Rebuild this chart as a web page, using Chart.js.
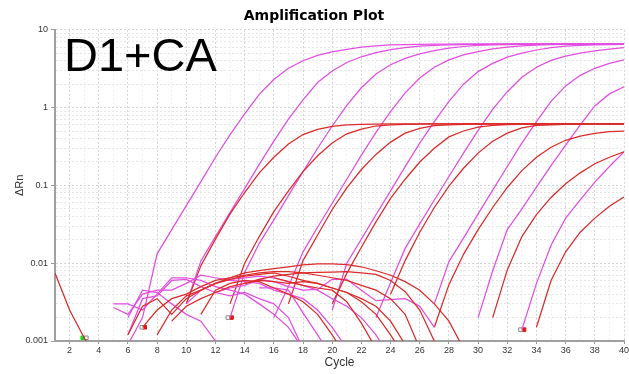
<!DOCTYPE html>
<html>
<head>
<meta charset="utf-8">
<script src="https://cdn.jsdelivr.net/npm/chart.js@4.4.1/dist/chart.umd.min.js"></script>
<style>
  html, body { margin: 0; padding: 0; background: #fff; }
  #wrap { position: relative; width: 629px; height: 374px; }
  #tag { position: absolute; left: 64px; top: 31px; font: 47px/47px "Liberation Sans", Arial, sans-serif; color: #000; pointer-events: none; }
</style>
</head>
<body>
<div id="wrap">
  <canvas id="myChart" width="629" height="374"></canvas>
  <div id="tag">D1+CA</div>
</div>
<script>
// cycle axis + log axis labels
const cycles = Array.from({length: 40}, (_, i) => i + 1);
const yLabels = [0.001, 0.01, 0.1, 1, 10];

// magenta wells: [first cycle, values...]
const m1 = [6, 0.0009, 0.002, 0.0132, 0.027, 0.055, 0.112, 0.23, 0.45, 0.83, 1.48, 2.3, 3.2, 4.0, 4.7, 5.2, 5.6, 6.0, 6.2, 6.4, 6.45, 6.5, 6.55, 6.55, 6.6, 6.6, 6.6, 6.6, 6.62, 6.62, 6.62, 6.65, 6.65, 6.65, 6.65, 6.65];
const m2 = [10, 0.003, 0.0107, 0.022, 0.045, 0.091, 0.186, 0.37, 0.71, 1.26, 2.1, 2.95, 3.8, 4.5, 5.1, 5.55, 5.9, 6.15, 6.3, 6.4, 6.45, 6.5, 6.55, 6.55, 6.6, 6.6, 6.6, 6.6, 6.6, 6.6, 6.6, 6.6];
const m3 = [13, 0.002, 0.0076, 0.018, 0.036, 0.074, 0.15, 0.30, 0.58, 1.07, 1.8, 2.7, 3.55, 4.3, 4.9, 5.4, 5.8, 6.1, 6.3, 6.4, 6.45, 6.5, 6.55, 6.55, 6.6, 6.6, 6.6, 6.6, 6.6];
const m4 = [16, 0.002, 0.005, 0.014, 0.029, 0.059, 0.12, 0.245, 0.48, 0.89, 1.55, 2.4, 3.3, 4.1, 4.75, 5.25, 5.7, 6.0, 6.2, 6.35, 6.45, 6.5, 6.55, 6.55, 6.6, 6.6];
const m5 = [20, 0.0025, 0.01, 0.0204, 0.042, 0.085, 0.174, 0.35, 0.66, 1.2, 2.0, 2.9, 3.7, 4.45, 5.0, 5.5, 5.9, 6.15, 6.3, 6.4, 6.45, 6.5];
const m6 = [23, 0.002, 0.0056, 0.0155, 0.032, 0.065, 0.13, 0.26, 0.51, 0.95, 1.6, 2.45, 3.3, 4.05, 4.6, 5.0, 5.35, 5.65, 5.9];
const m7 = [27, 0.003, 0.0105, 0.021, 0.043, 0.087, 0.175, 0.35, 0.66, 1.2, 1.9, 2.6, 3.2, 3.7, 4.1];
const m8 = [30, 0.002, 0.008, 0.027, 0.05, 0.095, 0.18, 0.33, 0.6, 1.05, 1.5, 1.85];
const m9 = [33, 0.0014, 0.0055, 0.017, 0.038, 0.065, 0.11, 0.175, 0.27];

// red wells
const r1 = [10, 0.003, 0.0093, 0.0204, 0.043, 0.081, 0.145, 0.23, 0.34, 0.45, 0.525, 0.575, 0.60, 0.61, 0.615, 0.62, 0.62, 0.62, 0.62, 0.62, 0.62, 0.62, 0.62, 0.62, 0.62, 0.62, 0.62, 0.62, 0.62, 0.62, 0.62, 0.62];
const r2 = [13, 0.003, 0.01, 0.022, 0.046, 0.085, 0.15, 0.24, 0.35, 0.46, 0.53, 0.58, 0.60, 0.61, 0.615, 0.62, 0.62, 0.62, 0.62, 0.62, 0.62, 0.62, 0.62, 0.62, 0.62, 0.62, 0.62, 0.62, 0.62];
const r3 = [17, 0.003, 0.0108, 0.023, 0.049, 0.093, 0.16, 0.25, 0.36, 0.47, 0.54, 0.585, 0.60, 0.61, 0.615, 0.62, 0.62, 0.62, 0.62, 0.62, 0.62, 0.62, 0.62, 0.62, 0.62];
const r4 = [20, 0.003, 0.0074, 0.016, 0.034, 0.068, 0.12, 0.20, 0.30, 0.42, 0.50, 0.56, 0.59, 0.605, 0.61, 0.615, 0.62, 0.62, 0.62, 0.62, 0.62, 0.62];
const r5 = [24, 0.004, 0.0108, 0.025, 0.052, 0.098, 0.166, 0.26, 0.37, 0.47, 0.55, 0.59, 0.60, 0.61, 0.615, 0.62, 0.62, 0.62];
const r6 = [27, 0.0015, 0.0053, 0.013, 0.027, 0.052, 0.094, 0.155, 0.23, 0.31, 0.38, 0.43, 0.465, 0.49, 0.50];
const r7 = [31, 0.002, 0.0082, 0.022, 0.042, 0.07, 0.105, 0.145, 0.19, 0.23, 0.27];
const r8 = [34, 0.0015, 0.006, 0.014, 0.025, 0.038, 0.054, 0.071];

// baseline noise before take-off
const h0 = [1, 0.0075, 0.0025, 0.0011, 0.0005];
const h1 = [5, 0.003, 0.003, 0.0025, 0.004, 0.0065, 0.0065, 0.006, 0.005, 0.0045, 0.004, 0.003, 0.0022, 0.0015, 0.0008];
const h2 = [5, 0.0027, 0.0022, 0.004, 0.0045, 0.0045, 0.0055, 0.007, 0.0065, 0.006, 0.0058, 0.0055, 0.0045, 0.004, 0.0035, 0.0025, 0.0015, 0.0008];
const h3 = [6, 0.0012, 0.0035, 0.0038, 0.006, 0.0062, 0.005, 0.0042, 0.0038, 0.0042, 0.0035, 0.003, 0.002, 0.0008];
const h4 = [6, 0.0012, 0.0028, 0.0035, 0.0022, 0.0035, 0.0045, 0.0055, 0.0065, 0.0075, 0.008, 0.0085, 0.009, 0.0095, 0.0098, 0.0098, 0.0096, 0.009, 0.008, 0.007, 0.0058, 0.0045, 0.003, 0.0018, 0.0008];
const h5 = [7, 0.0015, 0.0025, 0.0035, 0.004, 0.005, 0.006, 0.0065, 0.007, 0.0075, 0.0078, 0.0078, 0.0075, 0.007, 0.0065, 0.006, 0.0052, 0.0045, 0.0035, 0.0022, 0.0008];
const h6 = [8, 0.0012, 0.0025, 0.0038, 0.0045, 0.0055, 0.0062, 0.0068, 0.0072, 0.0075, 0.0068, 0.006, 0.0055, 0.0048, 0.0042, 0.0032, 0.0022, 0.0012, 0.0006];
const h7 = [9, 0.0018, 0.0028, 0.0035, 0.0042, 0.005, 0.0055, 0.006, 0.0058, 0.0055, 0.0058, 0.0055, 0.0048, 0.0042, 0.0035, 0.0028, 0.0018, 0.0009];
const h8 = [10, 0.003, 0.0045, 0.0055, 0.0062, 0.0065, 0.0068, 0.0065, 0.0058, 0.0052, 0.0045, 0.0035, 0.0028, 0.002, 0.0012, 0.0006];
const h9 = [12, 0.0042, 0.0048, 0.0052, 0.0062, 0.0058, 0.005, 0.0045, 0.0046, 0.0062, 0.0062, 0.0045, 0.0033, 0.0034, 0.0035, 0.0028, 0.0015];
const h10 = [11, 0.0022, 0.0045, 0.0055, 0.006, 0.0058, 0.0048, 0.004, 0.0032, 0.0022, 0.0012, 0.0006];
const h11 = [6, 0.002, 0.0045, 0.0042, 0.003, 0.0022, 0.0018, 0.001, 0.0006];
const h12 = [16, 0.0065, 0.0058, 0.0052, 0.0048, 0.0045, 0.0032, 0.0017, 0.0008];
const h13 = [14, 0.0055, 0.0062, 0.0068, 0.0072, 0.0075, 0.0076, 0.0077, 0.0078, 0.0075, 0.0072, 0.006, 0.0043, 0.0025, 0.001, 0.0005];
const h14 = [15, 0.0048, 0.0048, 0.0045, 0.0023, 0.0012, 0.0006];

// threshold-cycle markers
const ctGreen = [{x: 2.9, y: 0.0011}];
const ctRed = [{x: 7.15, y: 0.0015}, {x: 13.1, y: 0.002}, {x: 33.15, y: 0.0014}];
const ctOpen = [{x: 3.15, y: 0.0011}, {x: 6.95, y: 0.0015}, {x: 12.85, y: 0.002}, {x: 32.9, y: 0.0014}];

const MAGENTA = 'rgb(226,78,226)';
const RED = 'rgb(220,42,42)';

const toPoints = (row) => row.slice(1).map((v, i) => ({x: row[0] + i, y: v}));
const line = (row, color) => ({
    type: 'line', data: toPoints(row), borderColor: color, borderWidth: 1.25,
    pointRadius: 0, tension: 0, fill: false
});

const datasets = [
    ...[h0, h4, h5, h6, h7, h10, h12, h13].map(r => line(r, RED)),
    ...[h1, h2, h3, h8, h9, h11, h14].map(r => line(r, MAGENTA)),
    ...[r1, r2, r3, r4, r5, r6, r7, r8].map(r => line(r, RED)),
    ...[m1, m2, m3, m4, m5, m6, m7, m8, m9].map(r => line(r, MAGENTA)),
    {type: 'scatter', data: ctOpen, pointStyle: 'rect', pointRadius: 2.5, backgroundColor: '#fff', borderColor: '#888', borderWidth: 1},
    {type: 'scatter', data: ctRed, pointStyle: 'rect', pointRadius: 2.5, backgroundColor: 'rgb(230,20,20)', borderColor: 'rgb(230,20,20)', borderWidth: 1},
    {type: 'scatter', data: ctGreen, pointStyle: 'rect', pointRadius: 2.5, backgroundColor: 'rgb(20,220,20)', borderColor: 'rgb(20,220,20)', borderWidth: 1}
];

const isDecade = (v) => yLabels.some(d => Math.abs(d - v) < d * 1e-6);

new Chart(document.getElementById('myChart').getContext('2d'), {
    type: 'line',
    data: {datasets},
    options: {
        responsive: false,
        animation: false,
        devicePixelRatio: 1,
        layout: {padding: {right: 1}},
        plugins: {
            legend: {display: false},
            tooltip: {enabled: false},
            title: {
                display: true, text: 'Amplification Plot', color: '#000',
                font: {family: 'DejaVu Sans', size: 14, weight: 'bold'},
                padding: {top: 8, bottom: 5}
            }
        },
        scales: {
            x: {
                type: 'linear', min: 1, max: 40,
                afterFit: (s) => { s.height = 33; s.paddingLeft = 0; s.paddingRight = 0; },
                ticks: {
                    stepSize: 1, autoSkip: false, maxRotation: 0, padding: 1,
                    color: '#333', font: {family: 'Liberation Sans', size: 9},
                    callback: (v) => (v % 2 === 0 ? v : '')
                },
                grid: {
                    color: (c) => (c.tick && c.tick.value % 2 === 0 ? '#d4d4d4' : '#f0f0f0'),
                    tickColor: (c) => (c.tick && c.tick.value % 2 === 0 ? '#999' : 'rgba(0,0,0,0)'),
                    tickLength: 3
                },
                border: {color: '#a0a0a0', width: 2, dash: [2, 2]},
                title: {
                    display: true, text: 'Cycle', color: '#333',
                    font: {family: 'Liberation Sans', size: 12}, padding: {top: 0, bottom: 4}
                }
            },
            y: {
                type: 'logarithmic', min: 0.001, max: 10,
                afterFit: (s) => { s.width = 55; },
                afterBuildTicks: (s) => {
                    const t = [];
                    yLabels.forEach((d, i) => {
                        const top = i === yLabels.length - 1 ? 1 : 9;
                        for (let k = 1; k <= top; k++) t.push({value: +(d * k).toPrecision(3)});
                    });
                    s.ticks = t;
                },
                ticks: {
                    autoSkip: false, padding: 3,
                    color: '#333', font: {family: 'Liberation Sans', size: 9},
                    callback: (v) => (isDecade(v) ? String(v) : '')
                },
                grid: {
                    color: (c) => (c.tick && isDecade(c.tick.value) ? '#d4d4d4' : '#e6e6e6'),
                    tickColor: (c) => (c.tick && isDecade(c.tick.value) ? '#999' : 'rgba(0,0,0,0)'),
                    tickLength: 4
                },
                border: {color: '#a0a0a0', width: 2, dash: [2, 2]},
                title: {
                    display: true, text: 'ΔRn', color: '#333',
                    font: {family: 'Liberation Sans', size: 11}, padding: {top: 13, bottom: 0}
                }
            }
        }
    }
});
</script>
</body>
</html>
